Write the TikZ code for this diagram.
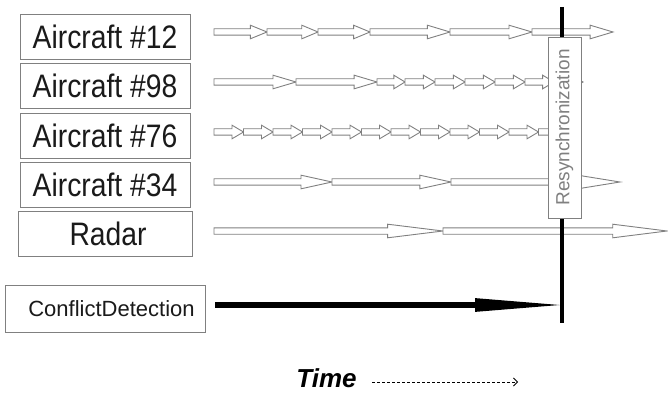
\documentclass[tikz,border=0pt]{standalone}
\usepackage{fontspec}
\setmainfont{Liberation Sans}
\usetikzlibrary{arrows.meta}
\definecolor{edgegrey}{HTML}{808080}
\definecolor{ink}{HTML}{1A1A1A}
\tikzset{
  box/.style={draw=edgegrey, line width=0.9pt, fill=white, inner sep=0pt, text=ink},
  blockarr/.style={draw=edgegrey, line width=0.9pt, fill=white, line join=miter},
}
\newcommand\blk[3]{%
  \pgfmathsetmacro\hl{0.22*(#2-#1)+5}%
  \pgfmathsetmacro\hb{#2-\hl}%
  \draw[blockarr] (#1,#3-3.2) -- (\hb,#3-3.2) -- (\hb,#3-6.8) -- (#2,#3) -- (\hb,#3+6.8) -- (\hb,#3+3.2) -- (#1,#3+3.2) -- cycle;}
\newcommand\bigtxt[1]{\scalebox{0.87}[1]{\fontsize{32.5}{36}\selectfont #1}}
\begin{document}
\begin{tikzpicture}[x=1pt,y=-1pt]
\useasboundingbox (0,0) rectangle (668,395);
% labels
\node[box, minimum width=170, minimum height=45] (a12) at (105,36.5) {\bigtxt{Aircraft \#12}};
\node[box, minimum width=170, minimum height=45] (a98) at (105,85.5) {\bigtxt{Aircraft \#98}};
\node[box, minimum width=170, minimum height=45] (a76) at (105,135.5) {\bigtxt{Aircraft \#76}};
\node[box, minimum width=170, minimum height=45] (a34) at (105,184.5) {\bigtxt{Aircraft \#34}};
\node[box, minimum width=174, minimum height=45] (radar) at (105,233.5) {\bigtxt{\hspace{7pt}Radar}};
\node[box, minimum width=200, minimum height=47] (cd) at (105,308.5) {\fontsize{22}{26}\selectfont\hspace{13pt}ConflictDetection};
% block arrow rows
\foreach \a/\b in {214/267,267/318,318/370,370/450,450/532,532/613} {\blk{\a}{\b}{32}}
\foreach \a/\b in {214/296,296/377,377/405,405/435,435/465,465/495,495/525,525/554,554/583} {\blk{\a}{\b}{82}}
\foreach \k in {0,...,11} {\pgfmathsetmacro\xa{214+29.5*\k}\pgfmathsetmacro\xb{243.5+29.5*\k}\blk{\xa}{\xb}{132}}
\foreach \a/\b in {214/332,332/451,451/620} {\blk{\a}{\b}{182}}
\foreach \a/\b in {214/443,443/667} {\blk{\a}{\b}{231}}
% synchronisation line
\coordinate (syncTop) at (562,7);
\coordinate (syncBot) at (562,323);
\coordinate (syncHit) at (559.5,305);
\coordinate (cdStart) at (215,305);
\coordinate (headBase) at (475,305);
\draw[line width=4.5pt, black] (syncTop) -- (syncBot);
\node[box, minimum width=33, minimum height=181] (resync) at (564.5,127.5)
  {\rotatebox{90}{\fontsize{19}{22}\selectfont\color{edgegrey}Resynchronization}};
% conflict detection arrow
\draw[line width=6.6pt, black] (cdStart) -- ([xshift=1pt]headBase);
\fill[black] ([yshift=-6.9pt]headBase) -- (syncHit) -- ([yshift=6.9pt]headBase) -- cycle;
% time
\node (time) at (326.5,378) {\fontsize{26}{30}\selectfont\bfseries\itshape Time};
\coordinate (timeEnd) at (518,382);
\draw[line width=0.8pt, dash pattern=on 3pt off 2pt, -{Straight Barb[length=4pt,width=8pt]}] (time.east |- timeEnd) ++(12,0) -- (timeEnd);
\end{tikzpicture}
\end{document}
